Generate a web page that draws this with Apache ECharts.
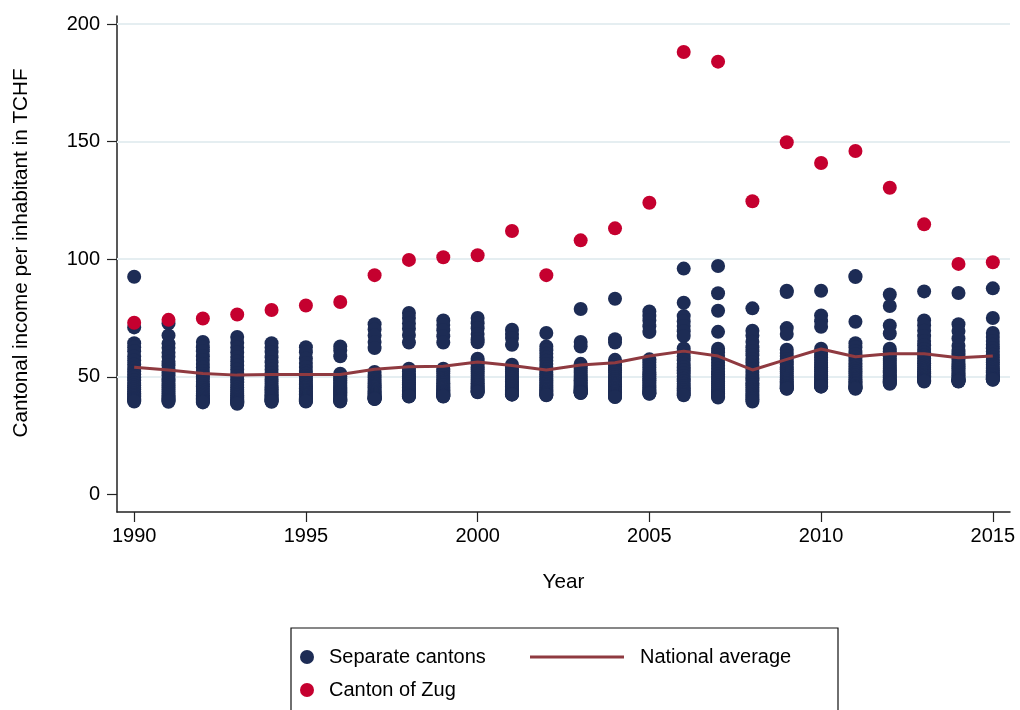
<!DOCTYPE html>
<html>
<head>
<meta charset="utf-8">
<script src="https://cdn.jsdelivr.net/npm/echarts@6/dist/echarts.min.js"></script>
<style>
  html, body { margin: 0; padding: 0; background: #fff; }
  #chart { width: 1020px; height: 710px; }
</style>
</head>
<body>
<div id="chart"></div>
<script>
const years = [1990, 1991, 1992, 1993, 1994, 1995, 1996, 1997, 1998, 1999, 2000, 2001, 2002,
               2003, 2004, 2005, 2006, 2007, 2008, 2009, 2010, 2011, 2012, 2013, 2014, 2015];

// Income per inhabitant (TCHF) of the separate cantons, one list per year
const separateCantons = [
  [92.5, 71, 64.3, 62.5, 60.8, 58.6, 56.9, 55.2, 53.8, 52.4, 51, 49.7, 48.5, 47.4, 46.3, 45.4, 44.6, 43.7, 42.9, 42.2, 41.6, 41, 40.4, 39.9, 39.5],
  [72.7, 67.6, 64.1, 62.3, 60.2, 58.5, 56.4, 54.9, 53.1, 51.8, 50.6, 49.2, 48.1, 47, 46.2, 45.3, 44.5, 43.6, 42.8, 42, 41.4, 40.8, 40.2, 39.8, 39.4],
  [64.8, 62.6, 60.9, 58.7, 57.1, 55.4, 53.9, 52.5, 51.2, 50.1, 49, 47.9, 46.9, 46, 45.2, 44.4, 43.6, 42.8, 42.1, 41.5, 40.9, 40.3, 39.8, 39.4, 39.1],
  [66.9, 64.5, 62.4, 60.3, 58.4, 56.5, 54.8, 53.1, 51.6, 50.2, 48.9, 47.7, 46.5, 45.4, 44.5, 43.6, 42.8, 42, 41.3, 40.7, 40.1, 39.6, 39.2, 38.8, 38.5],
  [64.3, 62.4, 60.5, 58.3, 56.2, 54.6, 53, 51.6, 50.3, 49.1, 48, 47, 46.1, 45.3, 44.6, 43.9, 43.2, 42.5, 41.9, 41.3, 40.8, 40.3, 39.9, 39.6, 39.4],
  [62.6, 60.4, 57.8, 55.9, 54.2, 52.5, 51.3, 50.2, 49.2, 48.3, 47.4, 46.6, 45.8, 45.1, 44.4, 43.7, 43.1, 42.5, 41.9, 41.4, 40.9, 40.4, 40, 39.7, 39.5],
  [62.9, 61.2, 58.7, 51.3, 50.2, 49.3, 48.5, 47.7, 47, 46.3, 45.7, 45.1, 44.5, 43.9, 43.4, 42.9, 42.4, 41.9, 41.4, 41, 40.6, 40.3, 40, 39.7, 39.5],
  [72.3, 70.1, 67.5, 64.8, 62.2, 52, 50.8, 49.7, 48.7, 47.8, 47, 46.2, 45.5, 44.8, 44.1, 43.5, 42.9, 42.4, 41.9, 41.5, 41.1, 40.9, 40.7, 40.6, 40.5],
  [77.1, 75, 72.6, 70.4, 67.8, 64.6, 53.4, 52.3, 51.2, 50.2, 49.3, 48.4, 47.6, 46.8, 46.1, 45.4, 44.8, 44.2, 43.6, 43.1, 42.6, 42.2, 41.9, 41.7, 41.6],
  [73.9, 72, 69.8, 67.2, 64.6, 53.4, 52.4, 51.4, 50.4, 49.5, 48.7, 47.9, 47.1, 46.4, 45.7, 45.1, 44.5, 43.9, 43.4, 42.9, 42.5, 42.2, 41.9, 41.7, 41.6],
  [75, 72.8, 70.6, 68.2, 66, 64.7, 57.7, 56.5, 55.3, 54.2, 53.2, 52.2, 51.3, 50.4, 49.5, 48.7, 47.9, 47.1, 46.4, 45.7, 45.1, 44.5, 44, 43.6, 43.4],
  [70, 68.2, 66.5, 63.6, 55.1, 54.1, 53.1, 52.2, 51.3, 50.4, 49.6, 48.8, 48, 47.3, 46.6, 45.9, 45.3, 44.7, 44.2, 43.7, 43.3, 42.9, 42.6, 42.5, 42.4],
  [68.6, 62.9, 61.3, 59.8, 58.2, 56.8, 55.4, 54.2, 53.1, 52, 51, 50.1, 49.2, 48.4, 47.6, 46.9, 46.2, 45.5, 44.8, 44.2, 43.6, 43.1, 42.7, 42.3, 42.1],
  [78.8, 64.8, 62.9, 55.5, 54.5, 53.5, 52.6, 51.7, 50.8, 50, 49.2, 48.4, 47.7, 47, 46.3, 45.7, 45.1, 44.6, 44.2, 43.9, 43.6, 43.4, 43.3, 43.2, 43.1],
  [83.2, 66, 64.6, 57.2, 56, 54.9, 53.8, 52.8, 51.8, 50.8, 49.9, 49, 48.2, 47.4, 46.6, 45.9, 45.2, 44.5, 43.9, 43.3, 42.7, 42.2, 41.8, 41.5, 41.4],
  [77.8, 75.8, 73.9, 71.5, 69, 57.4, 56.2, 55.1, 54, 53, 52, 51.1, 50.2, 49.3, 48.5, 47.7, 46.9, 46.2, 45.5, 44.8, 44.2, 43.6, 43.2, 42.9, 42.8],
  [96, 81.5, 75.8, 73.5, 71.6, 69.4, 67.3, 62, 60.4, 58.6, 57, 55.5, 54.1, 52.8, 51.5, 50.3, 49.2, 48.1, 47, 46.1, 45.2, 44.3, 43.5, 42.8, 42.1],
  [97.1, 85.5, 78.1, 69.1, 61.9, 60.4, 58.9, 57.4, 56, 54.7, 53.4, 52.2, 51.1, 50, 49, 48, 47.1, 46.2, 45.3, 44.5, 43.7, 43, 42.3, 41.7, 41.2],
  [79.1, 69.6, 67.5, 64.9, 62.6, 60.9, 59.2, 57.6, 56.1, 54.7, 53.3, 52, 50.8, 49.6, 48.5, 47.4, 46.4, 45.4, 44.5, 43.6, 42.7, 41.9, 41.1, 40.3, 39.5],
  [86.6, 86, 70.7, 68.2, 61.5, 60.1, 58.8, 57.6, 56.4, 55.3, 54.2, 53.2, 52.2, 51.3, 50.4, 49.6, 48.8, 48, 47.3, 46.7, 46.1, 45.6, 45.2, 45, 44.9],
  [86.6, 76.1, 73.6, 71.3, 61.9, 60.6, 59.4, 58.2, 57.1, 56, 55, 54, 53.1, 52.2, 51.3, 50.5, 49.7, 48.9, 48.2, 47.6, 47, 46.5, 46.1, 45.9, 45.8],
  [92.8, 92.4, 73.4, 64.3, 62.6, 61, 59.6, 58.2, 56.9, 55.7, 54.5, 53.4, 52.4, 51.4, 50.5, 49.6, 48.8, 48, 47.3, 46.7, 46.1, 45.6, 45.3, 45.1, 44.9],
  [85, 80.1, 71.8, 68.4, 61.9, 60.8, 59.7, 58.7, 57.7, 56.8, 55.9, 55, 54.2, 53.4, 52.6, 51.9, 51.2, 50.5, 49.8, 49.2, 48.6, 48.1, 47.7, 47.3, 47],
  [86.3, 73.9, 71.8, 69.6, 67.3, 65.2, 63.4, 61.8, 60.3, 59, 57.8, 56.7, 55.7, 54.7, 53.8, 53, 52.2, 51.5, 50.8, 50.2, 49.6, 49.1, 48.6, 48.3, 48],
  [85.6, 72.3, 69.5, 66.3, 63.2, 61.4, 60, 58.7, 57.5, 56.4, 55.4, 54.5, 53.6, 52.8, 52, 51.3, 50.6, 50, 49.5, 49.1, 48.7, 48.4, 48.2, 48.1, 48],
  [87.6, 75, 68.6, 66.9, 65.2, 63.6, 62.1, 60.7, 59.4, 58.2, 57.1, 56.1, 55.1, 54.2, 53.4, 52.6, 51.9, 51.2, 50.6, 50.1, 49.6, 49.3, 49, 48.8, 48.7]
];

const cantonZug = [73, 74.2, 74.8, 76.5, 78.4, 80.3, 81.8, 93.2, 99.7, 100.8, 101.7, 112, 93.2,
                   108, 113.1, 124, 188.1, 184, 124.6, 149.7, 140.9, 146, 130.4, 114.8, 98, 98.7];

const nationalAverage = [54.0, 52.9, 51.4, 50.7, 51.0, 51.0, 51.0, 53.2, 54.3, 54.5, 56.3, 54.8, 52.9,
                         55.0, 56.0, 58.8, 60.9, 58.8, 52.9, 57.4, 61.8, 58.5, 59.8, 59.8, 58.1, 58.8];

const xTicks = [1990, 1995, 2000, 2005, 2010, 2015];
const yTicks = [0, 50, 100, 150, 200];
const gridValues = [50, 100, 150, 200];

const NAVY = '#1d2c55';
const RED = '#c5002f';
const LINE = '#8f3a40';
const FONT = 'Liberation Sans, Arial, Helvetica, sans-serif';

const cantonPoints = [];
years.forEach((yr, i) => separateCantons[i].forEach(v => cantonPoints.push([yr, v])));
const zugPoints = years.map((yr, i) => [yr, cantonZug[i]]);
const avgPoints = years.map((yr, i) => [yr, nationalAverage[i]]);

const chart = echarts.init(document.getElementById('chart'), null, { renderer: 'canvas' });

const legendText = { color: '#000', fontSize: 20, fontFamily: FONT, lineHeight: 24 };

chart.setOption({
  animation: false,
  backgroundColor: '#fff',
  grid: { left: 117, right: 10, top: 16, bottom: 198, containLabel: false },
  xAxis: {
    type: 'value',
    min: 1989.5,
    max: 2015.5,
    name: 'Year',
    nameLocation: 'middle',
    nameGap: 60,
    nameTextStyle: { color: '#000', fontSize: 20.7, fontFamily: FONT },
    axisLine: { show: true, onZero: false, lineStyle: { color: '#222', width: 1.5 } },
    axisTick: { show: true, length: 10, lineStyle: { color: '#222', width: 1.2 }, customValues: xTicks },
    axisLabel: {
      color: '#000', fontSize: 20, fontFamily: FONT, margin: 14, customValues: xTicks,
      formatter: v => String(Math.round(v))
    },
    splitLine: { show: false }
  },
  yAxis: {
    type: 'value',
    min: -7.5,
    max: 203.4,
    name: 'Cantonal income per inhabitant in TCHF',
    nameLocation: 'middle',
    nameGap: 85,
    nameTextStyle: { color: '#000', fontSize: 20.7, fontFamily: FONT, padding: [0, 0, 0, 22] },
    axisLine: { show: true, onZero: false, lineStyle: { color: '#222', width: 1.5 } },
    axisTick: { show: true, length: 10, lineStyle: { color: '#222', width: 1.2 }, customValues: yTicks },
    axisLabel: {
      color: '#000', fontSize: 20, fontFamily: FONT, margin: 17, customValues: yTicks,
      formatter: v => String(Math.round(v))
    },
    splitLine: { show: false }
  },
  legend: [
    {
      data: [{ name: 'Separate cantons', icon: 'circle' }],
      left: 300, top: 645, padding: 0,
      itemWidth: 14, itemHeight: 14,
      textStyle: Object.assign({ padding: [0, 0, 0, 10] }, legendText),
      selectedMode: false
    },
    {
      data: [{ name: 'Canton of Zug', icon: 'circle' }],
      left: 300, top: 678, padding: 0,
      itemWidth: 14, itemHeight: 14,
      textStyle: Object.assign({ padding: [0, 0, 0, 10] }, legendText),
      selectedMode: false
    },
    {
      data: [{ name: 'National average', icon: 'rect' }],
      left: 530, top: 645, padding: 0,
      itemWidth: 94, itemHeight: 3,
      itemStyle: { color: LINE },
      textStyle: Object.assign({ padding: [0, 0, 0, 11] }, legendText),
      selectedMode: false
    }
  ],
  graphic: [
    {
      type: 'rect',
      shape: { x: 291, y: 628, width: 547, height: 120 },
      style: { fill: 'none', stroke: '#111', lineWidth: 1.2 },
      silent: true
    }
  ],
  series: [
    {
      name: 'gridlines',
      type: 'line',
      data: [],
      z: 1,
      silent: true,
      markLine: {
        silent: true,
        z: 1,
        symbol: 'none',
        label: { show: false },
        lineStyle: { color: '#e5eef1', width: 2, type: 'solid' },
        data: gridValues.map(v => ({ yAxis: v }))
      }
    },
    {
      name: 'Separate cantons',
      type: 'scatter',
      data: cantonPoints,
      symbol: 'circle',
      symbolSize: 14,
      itemStyle: { color: NAVY, opacity: 1 },
      z: 2
    },
    {
      name: 'Canton of Zug',
      type: 'scatter',
      data: zugPoints,
      symbol: 'circle',
      symbolSize: 14,
      itemStyle: { color: RED, opacity: 1 },
      z: 3
    },
    {
      name: 'National average',
      type: 'line',
      data: avgPoints,
      symbol: 'none',
      showSymbol: false,
      lineStyle: { color: LINE, width: 3 },
      itemStyle: { color: LINE },
      z: 4
    }
  ]
});
</script>
</body>
</html>
